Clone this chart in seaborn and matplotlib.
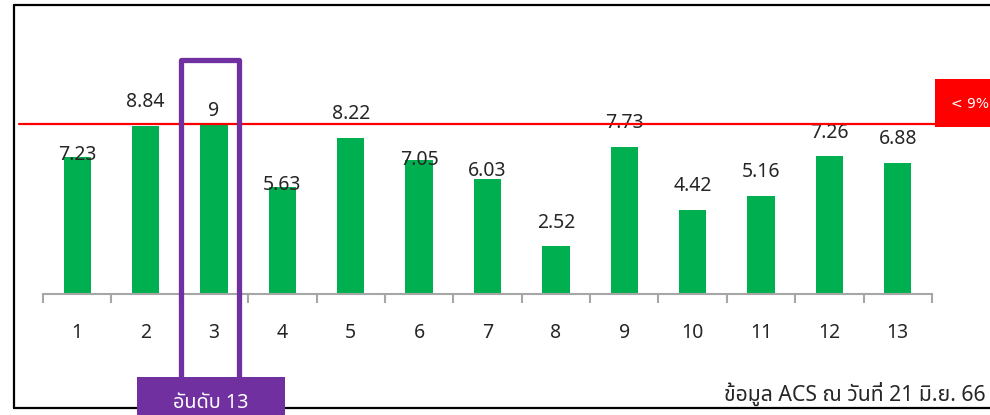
import numpy as np
import pandas as pd
import seaborn as sns
import matplotlib
matplotlib.use("Agg")
import matplotlib.pyplot as plt
import matplotlib.font_manager as fm
from matplotlib.ft2font import FT2Font
from matplotlib.patches import Rectangle
from matplotlib.lines import Line2D
import matplotlib.transforms as mtransforms

# ---- data ----
categories = ["1", "2", "3", "4", "5", "6", "7", "8", "9", "10", "11", "12", "13"]
values = [7.23, 8.84, 9, 5.63, 8.22, 7.05, 6.03, 2.52, 7.73, 4.42, 5.16, 7.26, 6.88]
value_labels = ["7.23", "8.84", "9", "5.63", "8.22", "7.05", "6.03", "2.52", "7.73", "4.42", "5.16", "7.26", "6.88"]
threshold = 9
threshold_label = "< 9%"
highlight_category = "3"
highlight_label = "อันดับ 13"
footer = "ข้อมูล ACS ณ วันที่ 21 มิ.ย. 66"

# ---- find a font with Thai glyphs ----
pref = ["Tahoma", "Leelawadee UI", "Leelawadee", "Noto Sans Thai", "Noto Sans Thai UI",
        "Sarabun", "Loma", "Garuda", "Waree", "Kinnari", "Norasi", "Laksaman"]
thai_font = None
cands = sorted(fm.fontManager.ttflist,
               key=lambda f: pref.index(f.name) if f.name in pref else len(pref))
for f in cands:
    try:
        cm = FT2Font(f.fname).get_charmap()
        if 0x0E2D in cm and 0x0E49 in cm and 0x0E39 in cm:
            thai_font = f.name
            break
    except Exception:
        pass

sns.set_theme(style="white")
fams = ["Noto Sans"]
if thai_font:
    fams.append(thai_font)
fams.append("DejaVu Sans")
plt.rcParams["font.family"] = fams

W, H = 990, 415
fig = plt.figure(figsize=(W / 100, H / 100), dpi=100)

def fx(px):
    return px / W

def fy(py):
    return 1 - py / H

# axes: x from 43 to 932 px, baseline at y=294 px, 19 px per unit
ymax = 15
ax_left, ax_right, base = 43, 932, 294
top_px = base - 19 * ymax
ax = fig.add_axes([fx(ax_left), fy(base), fx(ax_right - ax_left), (base - top_px) / H])

df = pd.DataFrame({"cat": categories, "val": values})
sns.barplot(data=df, x="cat", y="val", color="#00B050", saturation=1, width=0.4, ax=ax)
for p in ax.patches:
    p.set_edgecolor("none")

ax.set_xlim(-0.5, len(categories) - 0.5)
ax.set_ylim(0, ymax)
ax.set_xlabel("")
ax.set_ylabel("")
ax.set_yticks([])
for s in ["top", "left", "right"]:
    ax.spines[s].set_visible(False)
ax.spines["bottom"].set_color("#a6a6a6")
ax.spines["bottom"].set_linewidth(1.5)
ax.patch.set_alpha(0)

ax.set_xticks(range(len(categories)))
ax.set_xticklabels(categories)
ax.set_xticks(np.arange(-0.5, len(categories), 1), minor=True)
ax.tick_params(axis="x", which="major", length=0, pad=21, labelsize=14, labelcolor="#262626")
ax.tick_params(axis="x", which="minor", length=6.5, width=1.5, color="#a6a6a6", bottom=True)

# value labels (offsets in px above bar top, as placed in the original)
label_offsets_px = [2, 24.5, 12.5, 2.5, 23.5, 0.5, 8.5, 23.5, 24.5, 24.5, 23.5, 23.5, 24.5]
for i, (v, lab) in enumerate(zip(values, value_labels)):
    ax.annotate(lab, xy=(i, v), xytext=(0, label_offsets_px[i] * 0.72),
                textcoords="offset points", ha="center", va="center",
                fontsize=14, color="#262626", annotation_clip=False, zorder=5)

# threshold line (figure x, data y) -- drawn just under the value 9 bar top
blend = mtransforms.blended_transform_factory(fig.transFigure, ax.transData)
offset = mtransforms.ScaledTranslation(0, -1.5 / 100, fig.dpi_scale_trans)
fig.add_artist(Line2D([fx(19), fx(935)], [threshold, threshold], transform=blend + offset,
                      color="#FF0000", lw=1.6, zorder=4))

# threshold tag
fig.add_artist(Rectangle((fx(935), fy(127)), fx(70), (127 - 79) / H,
                         transform=fig.transFigure, facecolor="#FF0000",
                         edgecolor="none", zorder=4))
fig.text(fx(951), fy(104), threshold_label, color="white", fontsize=10,
         ha="left", va="center", family=["DejaVu Sans"], zorder=9)

# frame lines
frame_kw = dict(transform=fig.transFigure, color="black", lw=1.6, zorder=1)
fig.add_artist(Line2D([fx(14), fx(14)], [fy(5), fy(408)], **frame_kw))
fig.add_artist(Line2D([fx(14), 1], [fy(5), fy(5)], **frame_kw))
fig.add_artist(Line2D([fx(14), 1], [fy(408), fy(408)], **frame_kw))

# highlight box around category 3
hi = categories.index(highlight_category)
purple = "#7030A0"
cx = ax_left + (hi + 0.5) * (ax_right - ax_left) / len(categories) - 4
hw = 29
box_kw = dict(transform=fig.transFigure, color=purple, lw=3.8, zorder=6,
              solid_joinstyle="round", solid_capstyle="butt")
fig.add_artist(Line2D([fx(cx - hw), fx(cx - hw), fx(cx + hw), fx(cx + hw)],
                      [fy(378), fy(60), fy(60), fy(378)], **box_kw))
fig.add_artist(Rectangle((fx(137), 0), fx(148), fy(377), transform=fig.transFigure,
                         facecolor=purple, edgecolor="none", zorder=7))
fig.text(fx(211), fy(403), highlight_label, color="white", fontsize=14.3,
         ha="center", va="center", zorder=8)

# footer
fig.text(fx(986), fy(394), footer, color="#262626", fontsize=15.3, ha="right", va="center")

fig.savefig("out.png", dpi=100, facecolor="white")
